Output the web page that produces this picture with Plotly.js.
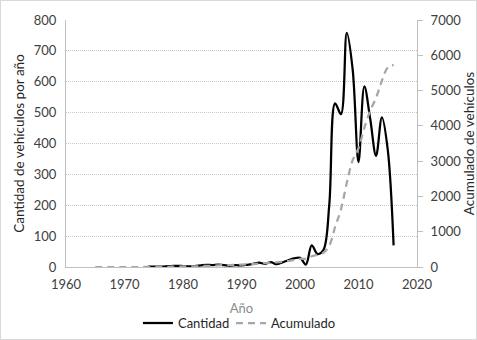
<!DOCTYPE html>
<html>
<head>
<meta charset="utf-8">
<script src="https://cdn.plot.ly/plotly-3.0.1.min.js"></script>
<style>
html,body{margin:0;padding:0;background:#fff;}
#wrap{position:relative;width:477px;height:340px;}
#chart{position:absolute;left:0;top:0;width:477px;height:340px;}
#frame{position:absolute;left:0;top:0;width:475px;height:338px;border:1px solid #D9D9D9;pointer-events:none;}
</style>
</head>
<body>
<div id="wrap"><div id="chart"></div><div id="frame"></div></div>
<script>
// Cantidad de vehículos por año
const yearsCantidad = [1974,1975,1976,1977,1978,1979,1980,1981,1982,1983,1984,1985,1986,1987,1988,1989,1990,1991,1992,1993,1994,1995,1996,1997,1998,1999,2000,2001,2002,2003,2004,2005,2006,2007,2008,2009,2010,2011,2012,2013,2014,2015,2016];
const cantidad = [1,1,1,2,3,4,3,2,3,5,7,6,8,6,4,6,5,7,10,14,10,16,9,15,22,28,30,8,70,42,55,200,530,495,758,640,340,585,480,360,485,380,70];
// Acumulado de vehículos
const yearsAcumulado = [1965,1966,1967,1968,1969,1970,1971,1972,1973,1974,1975,1976,1977,1978,1979,1980,1981,1982,1983,1984,1985,1986,1987,1988,1989,1990,1991,1992,1993,1994,1995,1996,1997,1998,1999,2000,2001,2002,2003,2004,2005,2006,2007,2008,2009,2010,2011,2012,2013,2014,2015,2016];
const acumulado = [0,0,0,0,0,0,0,0,0,1,2,3,5,8,12,15,17,20,25,32,38,46,52,56,62,67,74,84,98,108,124,133,148,170,198,228,236,306,348,403,603,1133,1628,2386,3026,3366,3951,4431,4791,5276,5656,5726];

const leftTicks = [0,100,200,300,400,500,600,700,800];
const rightTicks = [0,1000,2000,3000,4000,5000,6000,7000];
const xTicks = [1960,1970,1980,1990,2000,2010,2020];

const FONT = 'Lato, "Open Sans", sans-serif';
const traces = [
  {x: yearsCantidad, y: cantidad, name: 'Cantidad', type: 'scatter', mode: 'lines',
   line: {color: '#000000', width: 2.25, shape: 'spline', smoothing: 1}, yaxis: 'y', legend: 'legend'},
  {x: yearsAcumulado, y: acumulado, name: 'Acumulado', type: 'scatter', mode: 'lines',
   line: {color: '#A6A6A6', width: 2.25, dash: '7px,5px', shape: 'spline', smoothing: 1}, yaxis: 'y2', legend: 'legend2'}
];
const legBase = {orientation: 'h', y: -0.227, yanchor: 'middle', xanchor: 'left',
                 font: {family: FONT, size: 13, color: '#262626'}, itemwidth: 30, bgcolor: 'rgba(0,0,0,0)'};
const layout = {
  width: 477, height: 340,
  margin: {l: 66, r: 60, t: 20, b: 73, autoexpand: false},
  paper_bgcolor: '#fff', plot_bgcolor: '#fff',
  font: {family: FONT, size: 13, color: '#404040'},
  showlegend: true,
  legend: Object.assign({}, legBase, {x: 0.205}),
  legend2: Object.assign({}, legBase, {x: 0.470}),
  xaxis: {range: [1960, 2020], tickvals: xTicks, ticktext: xTicks.map(String),
          showgrid: false, zeroline: false, showline: true, linecolor: '#BFBFBF', linewidth: 1,
          ticks: '', ticklabelstandoff: 5, tickfont: {size: 13, color: '#404040'},
          title: {text: 'Año', font: {size: 13, color: '#8C8C8C'}, standoff: 13}},
  yaxis: {range: [0, 800], tickvals: leftTicks, showgrid: true, gridcolor: '#C8C8C8', griddash: '1px,1px',
          zeroline: false, showline: true, linecolor: '#BFBFBF', linewidth: 1, ticks: '',
          ticklabelstandoff: 6, tickfont: {size: 13, color: '#404040'},
          title: {text: 'Cantidad de vehículos por año', font: {size: 13.5, color: '#262626'}, standoff: 6}},
  yaxis2: {range: [0, 7000], tickvals: rightTicks, overlaying: 'y', side: 'right', showgrid: false,
           zeroline: false, showline: true, linecolor: '#BFBFBF', linewidth: 1, ticks: 'outside', ticklen: 5,
           tickcolor: '#BFBFBF', ticklabelstandoff: 5, tickfont: {size: 13, color: '#404040'},
           title: {text: 'Acumulado de vehículos', font: {size: 13.5, color: '#262626'}, standoff: 4}}
};
Plotly.newPlot('chart', traces, layout, {displayModeBar: false, staticPlot: true});
</script>
</body>
</html>
